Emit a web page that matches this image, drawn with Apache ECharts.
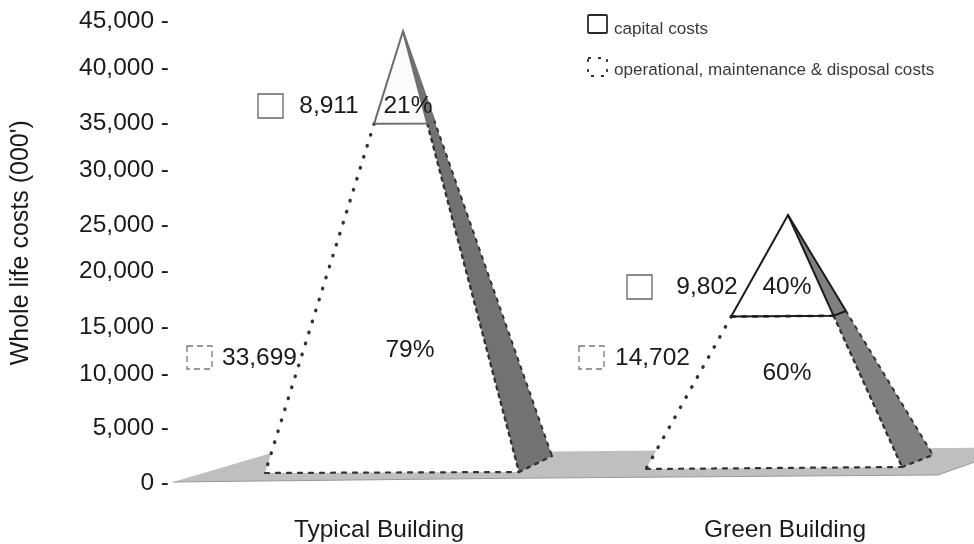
<!DOCTYPE html>
<html>
<head>
<meta charset="utf-8">
<style>html,body{margin:0;padding:0;background:#fff}#chart{width:974px;height:544px}</style>
<script src="https://cdn.jsdelivr.net/npm/echarts@6/dist/echarts.min.js"></script>
</head>
<body>
<div id="chart"></div>
<script>
// Whole life costs of two buildings, split into capital and running costs
const categories = ['Typical Building', 'Green Building'];
const capitalCosts = [8911, 9802];
const operationalCosts = [33699, 14702];
const yTicks = [0, 5000, 10000, 15000, 20000, 25000, 30000, 35000, 40000, 45000];

// Vertical shift of each hand-set tick label, in px (positive = down)
const tickNudge = { 0: 1, 5000: -2, 10000: -4, 15000: 0.5, 20000: -3, 25000: 2, 30000: -1, 35000: 4, 40000: 1, 45000: 5.5 };

// Perspective of each pyramid: base corners relative to the category centre
const shapes = [
  { apexDx: 24, leftDx: -114, rightDx: 140, backDx: 173, leftBase: 868, rightBase: 965, backBase: 2508,
    topFace: '#fbfbfb', topLine: '#6e6e6e', sideFill: '#727272', midDots: false,
    capBox: [258, 94], opBox: [187, 346],
    capValue: [329, 106], capPct: [408, 106], opValue: [259.5, 358], opPct: [410, 350] },
  { apexDx: 3, leftDx: -139, rightDx: 117, backDx: 148, leftBase: 1254, rightBase: 1447, backBase: 2605,
    topFace: '#ffffff', topLine: '#1c1c1c', sideFill: '#808080', midDots: true,
    capBox: [627, 275], opBox: [579, 346],
    capValue: [707, 287], capPct: [787, 287], opValue: [652.5, 358], opPct: [787, 373] }
];

const FONT = '"Liberation Sans", Arial, sans-serif';
const lerp = (a, b, t) => [a[0] + (b[0] - a[0]) * t, a[1] + (b[1] - a[1]) * t];
const fmt = v => v.toLocaleString('en-US');

function txt(pos, text, color) {
  return {
    type: 'text', z2: 20,
    style: { x: pos[0], y: pos[1], text, fill: color || '#1a1a1a', font: '24.5px ' + FONT, textAlign: 'center', textVerticalAlign: 'middle' }
  };
}
function dotted(points, dash, width) {
  return {
    type: 'polyline', z2: 10,
    shape: { points },
    style: { fill: null, stroke: '#333', lineWidth: width || 3.4, lineDash: dash || [0.5, 11], lineCap: 'round' }
  };
}
function box(pos, dashed) {
  return {
    type: 'rect', z2: 15,
    shape: { x: pos[0], y: pos[1], width: 25, height: dashed ? 23 : 24 },
    style: { fill: '#fff', stroke: dashed ? '#777' : '#666', lineWidth: 1.3, lineDash: dashed ? [6, 4] : null }
  };
}

function renderPyramid(params, api) {
  const i = params.dataIndex;
  const s = shapes[i];
  const cx = api.coord([i, 0])[0];
  const at = (dx, v) => [cx + dx, api.coord([i, v])[1]];
  const capital = capitalCosts[i], running = operationalCosts[i], total = capital + running;
  const share = capital / total;

  const apex = at(s.apexDx, s.leftBase + total);
  const left = at(s.leftDx, s.leftBase);
  const right = at(s.rightDx, s.rightBase);
  const back = at(s.backDx, s.backBase);
  const midLeft = lerp(apex, left, share);
  const midRight = lerp(apex, right, share);
  const midBack = lerp(apex, back, share);

  const line = (points) => ({
    type: 'polyline', z2: 12, shape: { points },
    style: { fill: null, stroke: s.topLine, lineWidth: 2 }
  });

  const children = [
    // Front and side faces
    { type: 'polygon', shape: { points: [midLeft, midRight, right, left] }, style: { fill: '#fff' } },
    { type: 'polygon', shape: { points: [apex, midLeft, midRight] }, style: { fill: s.topFace } },
    { type: 'polygon', z2: 5, shape: { points: [apex, right, back] }, style: { fill: s.sideFill } },
    // Capital cost section has a solid outline
    line([midLeft, apex, midBack]),
    line([apex, midRight]),
    line([midLeft, midRight, midBack]),
    // Running cost section has a dotted outline
    dotted([midLeft, left]),
    dotted([left, right], [4, 7], 2.2),
    dotted([midRight, right], [3, 5], 2.4),
    dotted([right, back], [3, 6], 2.4),
    dotted([midBack, back], [3, 6], 2),
    // Annotations
    box(s.capBox, false),
    box(s.opBox, true),
    txt(s.capValue, fmt(capital)),
    txt(s.capPct, Math.round(share * 100) + '%'),
    txt(s.opValue, fmt(running)),
    txt(s.opPct, Math.round((1 - share) * 100) + '%')
  ];
  if (s.midDots) children.push(dotted([midLeft, midRight], [4, 7], 2.6));
  return { type: 'group', children };
}

function renderFloor(params, api) {
  const y = v => api.coord([0, v])[1];
  return {
    type: 'group',
    children: [
      {
        type: 'polygon',
        shape: { points: [[173, y(0)], [268, y(2700)], [974, y(3300)], [974, y(1900)], [938, y(680)], [500, y(350)]] },
        style: { fill: '#bfbfbf' }
      },
      {
        type: 'polyline',
        shape: { points: [[173, y(0)], [500, y(350)], [938, y(680)], [974, y(1900)]] },
        style: { fill: null, stroke: '#999', lineWidth: 1 }
      }
    ]
  };
}

const richLabels = {};
yTicks.forEach(t => {
  const d = tickNudge[t];
  richLabels['t' + t] = {
    fontFamily: FONT, fontSize: 24.5, color: '#1a1a1a',
    padding: d >= 0 ? [2 * d, 0, 0, 0] : [0, 0, -2 * d, 0]
  };
});

const chart = echarts.init(document.getElementById('chart'), null, { renderer: 'canvas' });
chart.setOption({
  animation: false,
  backgroundColor: '#fff',
  grid: { left: 176, top: 15.5, width: 812, height: 466.5, containLabel: false, outerBoundsMode: 'none' },
  xAxis: {
    type: 'category',
    data: categories,
    axisLine: { show: false },
    axisTick: { show: false },
    axisLabel: { color: '#1a1a1a', fontFamily: FONT, fontSize: 24.5, margin: 36 }
  },
  yAxis: {
    type: 'value',
    min: 0, max: 45000, interval: 5000,
    name: "Whole life costs (000')",
    nameLocation: 'middle',
    nameGap: 142,
    nameTextStyle: { color: '#1a1a1a', fontFamily: FONT, fontSize: 25, padding: [0, 0, 0, 12] },
    axisLine: { show: false },
    axisTick: { show: false },
    splitLine: { show: false },
    axisLabel: {
      margin: 7,
      formatter: v => '{t' + v + '|' + fmt(v) + ' -}',
      rich: richLabels
    }
  },
  series: [
    { type: 'custom', silent: true, coordinateSystem: 'cartesian2d', z: 1, clip: false, renderItem: renderFloor, data: [[0, 0]] },
    {
      type: 'custom', silent: true, coordinateSystem: 'cartesian2d', z: 2, clip: false,
      renderItem: renderPyramid,
      encode: { x: 0, y: 1 },
      data: categories.map((c, i) => [i, capitalCosts[i] + operationalCosts[i]])
    }
  ],
  graphic: [
    { type: 'rect', z: 10, shape: { x: 588, y: 15, width: 19, height: 18, r: 1 }, style: { fill: '#fff', stroke: '#2a2a2a', lineWidth: 1.8 } },
    { type: 'text', z: 10, style: { x: 614, y: 29, text: 'capital costs', fill: '#3a3a3a', font: '17.1px ' + FONT, textVerticalAlign: 'middle' } },
    { type: 'rect', z: 10, shape: { x: 588, y: 58, width: 19, height: 18 }, style: { fill: '#fff', stroke: '#333', lineWidth: 1.8, lineDash: [3, 7] } },
    { type: 'text', z: 10, style: { x: 614, y: 70, text: 'operational, maintenance & disposal costs', fill: '#3a3a3a', font: '17.1px ' + FONT, textVerticalAlign: 'middle' } }
  ]
});
</script>
</body>
</html>
